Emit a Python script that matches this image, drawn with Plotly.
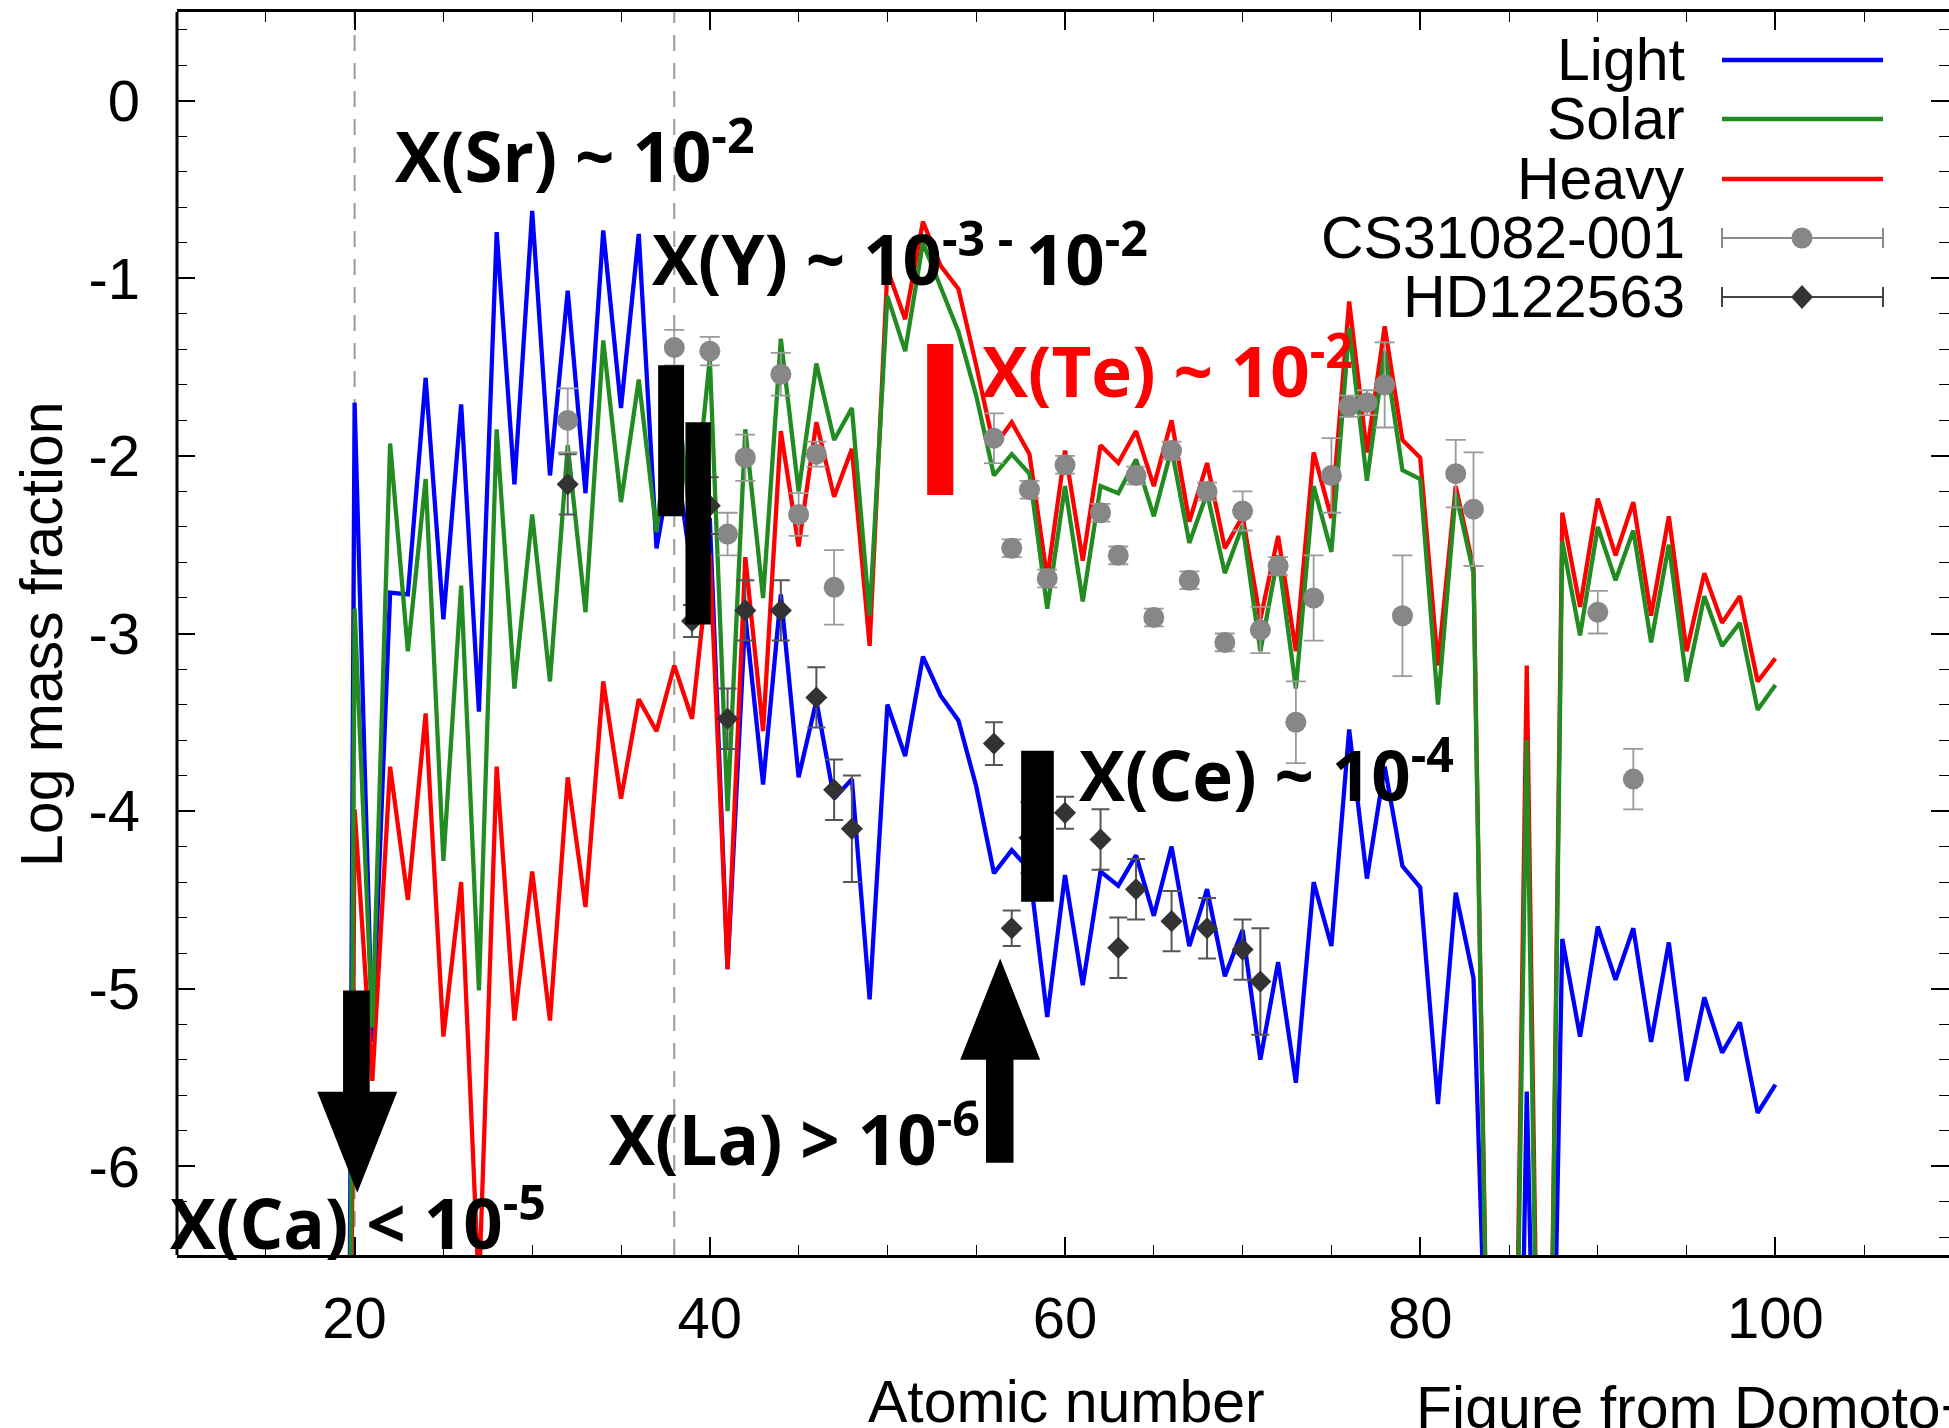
import plotly.graph_objects as go

# ---------------- data ----------------
Z = list(range(19, 101))
light = [-20, -1.70, -5.30, -2.77, -2.78, -1.56, -2.92, -1.71, -3.44, -0.74,
         -2.16, -0.62, -2.11, -1.07, -2.21, -0.73, -1.73, -0.75, -2.52, -1.95,
         -2.66, -2.35, -4.89, -2.90, -3.85, -2.78, -3.81, -3.38, -3.93, -3.82,
         -5.06, -3.40, -3.69, -3.13, -3.35, -3.49, -3.86, -4.35, -4.22, -4.33,
         -5.16, -4.36, -4.98, -4.34, -4.42, -4.25, -4.59, -4.20, -4.76, -4.44,
         -4.93, -4.67, -5.40, -4.85, -5.53, -4.40, -4.76, -3.54, -4.38, -3.75,
         -4.31, -4.43, -5.65, -4.46, -4.94, -8.4, -11.3, -5.58, -10.0, -4.72,
         -5.27, -4.65, -4.95, -4.66, -5.30, -4.74, -5.52, -5.05, -5.36, -5.19,
         -5.70, -5.54]
solar = [-20, -2.86, -5.22, -1.93, -3.10, -2.13, -4.28, -2.73, -5.01, -1.85,
         -3.31, -2.33, -3.27, -1.94, -2.88, -1.35, -2.26, -1.57, -2.43, -1.50,
         -2.45, -1.45, -4.00, -1.85, -2.80, -1.34, -2.20, -1.48, -1.91, -1.73,
         -2.90, -1.10, -1.41, -0.80, -1.05, -1.30, -1.66, -2.11, -1.99, -2.10,
         -2.86, -2.17, -2.82, -2.17, -2.21, -2.02, -2.34, -1.96, -2.49, -2.21,
         -2.66, -2.39, -3.10, -2.56, -3.31, -2.17, -2.54, -1.28, -2.14, -1.41,
         -2.08, -2.13, -3.40, -2.21, -2.66, -8.6, -10.0, -3.6, -10.0, -2.48,
         -3.01, -2.40, -2.70, -2.42, -3.05, -2.50, -3.27, -2.79, -3.07, -2.94,
         -3.43, -3.29]
heavy = [-20, -3.99, -5.52, -3.75, -4.50, -3.45, -5.27, -4.40, -6.70, -3.75,
         -5.18, -4.34, -5.18, -3.81, -4.54, -3.27, -3.93, -3.37, -3.55, -3.18,
         -3.48, -2.55, -4.89, -2.57, -3.55, -1.86, -2.51, -1.81, -2.23, -1.96,
         -3.07, -0.95, -1.23, -0.68, -0.93, -1.06, -1.49, -1.95, -1.81, -1.99,
         -2.69, -1.97, -2.59, -1.94, -2.04, -1.86, -2.17, -1.80, -2.37, -2.04,
         -2.52, -2.34, -2.92, -2.45, -3.10, -1.98, -2.35, -1.13, -1.98, -1.27,
         -1.91, -2.01, -3.18, -2.17, -2.63, -8.5, -10.0, -3.18, -10.0, -2.32,
         -2.85, -2.24, -2.56, -2.26, -2.90, -2.34, -3.10, -2.66, -2.94, -2.79,
         -3.27, -3.14]

cs_z = [32, 38, 40, 41, 42, 44, 45, 46, 47, 56, 57, 58, 59, 60, 62, 63, 64, 65,
        66, 67, 68, 69, 70, 71, 72, 73, 74, 75, 76, 77, 78, 79, 82, 83, 90, 92]
cs_v = [-1.80, -1.39, -1.41, -2.44, -2.01, -1.54, -2.33, -1.99, -2.74, -1.90,
        -2.52, -2.19, -2.69, -2.05, -2.32, -2.56, -2.11, -2.91, -1.97, -2.70,
        -2.20, -3.05, -2.31, -2.98, -2.62, -3.50, -2.80, -2.11, -1.72, -1.70,
        -1.60, -2.90, -2.10, -2.30, -2.88, -3.82]
cs_e = [0.18, 0.10, 0.08, 0.12, 0.13, 0.12, 0.12, 0.07, 0.21, 0.14,
        0.05, 0.05, 0.05, 0.05, 0.05, 0.05, 0.05, 0.05, 0.05, 0.05,
        0.05, 0.05, 0.11, 0.13, 0.05, 0.23, 0.24, 0.21, 0.06, 0.07,
        0.24, 0.34, 0.19, 0.32, 0.12, 0.17]

hd_z = [32, 39, 40, 41, 42, 44, 46, 47, 48, 56, 57, 58, 60, 62, 63, 64, 66, 68, 70, 71]
hd_v = [-2.16, -2.93, -2.28, -3.48, -2.87, -2.87, -3.36, -3.88, -4.10, -3.62,
        -4.66, -4.15, -4.01, -4.16, -4.77, -4.44, -4.62, -4.66, -4.78, -4.96]
hd_e = [0.17, 0.09, 0.16, 0.17, 0.17, 0.17, 0.17, 0.17, 0.30, 0.12,
        0.10, 0.20, 0.09, 0.17, 0.17, 0.17, 0.17, 0.17, 0.17, 0.30]

x_ticks = [20, 40, 60, 80, 100]
y_ticks = [0, -1, -2, -3, -4, -5, -6]

# ---------------- layout geometry ----------------
W, H = 1949, 1428
LM, TM, BM = 177, 12, 173
PW, PH = W - LM, H - TM - BM
XS = 17.76
XR = [10, 10 + PW / XS]
YR = [-6.5, 0.5]


def px(p):
    return (p - LM) / PW


def py(p):
    return 1 - (p - TM) / PH


BLUE, GREEN, RED = "#0000ff", "#228b22", "#ff0000"
TICKFONT = "Liberation Sans, Arial, Helvetica, sans-serif"
BOLDFONT = "Open Sans, Noto Sans, sans-serif"
LW = 4.3

fig = go.Figure()
fig.add_trace(go.Scatter(x=Z, y=light, mode="lines", line=dict(color=BLUE, width=LW), name="Light"))
fig.add_trace(go.Scatter(x=Z, y=heavy, mode="lines", line=dict(color=RED, width=LW), name="Heavy"))
fig.add_trace(go.Scatter(x=Z, y=solar, mode="lines", line=dict(color=GREEN, width=LW), name="Solar"))
fig.add_trace(go.Scatter(
    x=cs_z, y=cs_v, mode="markers", name="CS31082-001",
    marker=dict(symbol="circle", size=21, color="#878787"),
    error_y=dict(type="data", array=cs_e, color="#9a9a9a", thickness=1.8, width=10)))
fig.add_trace(go.Scatter(
    x=hd_z, y=hd_v, mode="markers", name="HD122563",
    marker=dict(symbol="diamond", size=17, color="#333333"),
    error_y=dict(type="data", array=hd_e, color="#555555", thickness=2, width=9)))

shapes = []
for zz in (20, 38):
    shapes.append(dict(type="line", xref="x", yref="paper", x0=zz, x1=zz, y0=0, y1=1,
                       line=dict(color="#999999", width=2, dash="16px,12px"), layer="below"))
for (xa, xb, ya, yb, c) in [(37.09, 38.55, -1.49, -2.34, "black"),
                            (38.63, 40.06, -1.81, -2.95, "black"),
                            (52.24, 53.71, -1.37, -2.22, RED),
                            (57.53, 59.37, -3.66, -4.51, "black")]:
    shapes.append(dict(type="rect", xref="x", yref="y", x0=xa, x1=xb, y0=yb, y1=ya,
                       fillcolor=c, line=dict(width=0)))
shapes.append(dict(type="path", xref="x", yref="y", fillcolor="black", line=dict(width=0),
                   path="M 19.35,-5.01 L 20.85,-5.01 L 20.85,-5.58 L 22.4,-5.58 L 20.15,-6.15 "
                        "L 17.9,-5.58 L 19.35,-5.58 Z"))
shapes.append(dict(type="path", xref="x", yref="y", fillcolor="black", line=dict(width=0),
                   path="M 55.55,-5.98 L 57.1,-5.98 L 57.1,-5.40 L 58.6,-5.40 L 56.35,-4.83 "
                        "L 54.1,-5.40 L 55.55,-5.40 Z"))
shapes.append(dict(type="line", xref="paper", yref="paper", x0=0, x1=0, y0=0, y1=1,
                   line=dict(color="black", width=3)))

# manual legend (gnuplot style: text, then sample)
rows = [60, 119, 179, 238, 297]
labels = ["Light", "Solar", "Heavy", "CS31082-001", "HD122563"]
annotations = []
for r, lab in zip(rows, labels):
    annotations.append(dict(text=lab, xref="paper", yref="paper", x=px(1687), y=py(r),
                            xanchor="right", yanchor="middle", showarrow=False,
                            font=dict(family=TICKFONT, size=59, color="black")))
for r, c in zip(rows[:3], [BLUE, GREEN, RED]):
    shapes.append(dict(type="line", xref="paper", yref="paper", x0=px(1722), x1=px(1883),
                       y0=py(r), y1=py(r), line=dict(color=c, width=LW)))
for r, c in [(rows[3], "#8a8a8a"), (rows[4], "#444444")]:
    shapes.append(dict(type="line", xref="paper", yref="paper", x0=px(1722), x1=px(1883),
                       y0=py(r), y1=py(r), line=dict(color=c, width=2)))
    for xx in (1722, 1883):
        shapes.append(dict(type="line", xref="paper", yref="paper", x0=px(xx), x1=px(xx),
                           y0=py(r - 10), y1=py(r + 10), line=dict(color=c, width=2)))
shapes.append(dict(type="circle", xref="paper", yref="paper", x0=px(1791.5), x1=px(1812.5),
                   y0=py(rows[3] + 10.5), y1=py(rows[3] - 10.5), fillcolor="#878787",
                   line=dict(width=0)))
r = rows[4]
shapes.append(dict(type="path", xref="paper", yref="paper", fillcolor="#333333", line=dict(width=0),
                   path=f"M {px(1791)},{py(r)} L {px(1802)},{py(r - 12)} L {px(1813)},{py(r)} "
                        f"L {px(1802)},{py(r + 12)} Z"))

notes = [
    ("X(Sr) ~ 10<sup>-2</sup>", 393, 152, "black"),
    ("X(Y) ~ 10<sup>-3 - </sup>10<sup>-2</sup>", 650, 255, "black"),
    ("X(Te) ~ 10<sup>-2</sup>", 980, 366, RED),
    ("X(Ce) ~ 10<sup>-4</sup>", 1077, 771, "black"),
    ("X(La) &gt; 10<sup>-6</sup>", 607, 1134, "black"),
    ("X(Ca) &lt; 10<sup>-5</sup>", 168, 1218, "black"),
]
for t, xx, yy, c in notes:
    annotations.append(dict(text=f"<b>{t}</b>", xref="paper", yref="paper", x=px(xx), y=py(yy),
                            xanchor="left", yanchor="middle", showarrow=False,
                            font=dict(family=BOLDFONT, size=69, color=c)))

annotations.append(dict(text="Log mass fraction", xref="paper", yref="paper", x=px(42), y=py(634),
                        textangle=-90, showarrow=False, xanchor="center", yanchor="middle",
                        font=dict(family=TICKFONT, size=59, color="black")))
annotations.append(dict(text="Atomic number", xref="paper", yref="paper", x=px(1066), y=py(1402),
                        showarrow=False, xanchor="center", yanchor="middle",
                        font=dict(family=TICKFONT, size=59, color="black")))
annotations.append(dict(text="Figure from Domoto+2022", xref="paper", yref="paper", x=px(1414),
                        y=py(1408), showarrow=False, xanchor="left", yanchor="middle",
                        font=dict(family=TICKFONT, size=59, color="black")))

fig.update_layout(
    width=W, height=H, margin=dict(l=LM, r=0, t=TM, b=BM, pad=0),
    paper_bgcolor="white", plot_bgcolor="white", showlegend=False,
    shapes=shapes, annotations=annotations,
    font=dict(family=TICKFONT, color="black"),
)
fig.update_xaxes(range=XR, tickmode="array", tickvals=x_ticks, ticktext=[str(v) for v in x_ticks],
                 ticks="inside", ticklen=18, tickwidth=1.5, tickcolor="black",
                 showline=True, linecolor="black", linewidth=3, mirror="ticks",
                 showgrid=False, zeroline=False, ticklabelstandoff=10,
                 tickfont=dict(family=TICKFONT, size=58, color="black"),
                 minor=dict(dtick=5, tick0=0, ticks="inside", ticklen=10, tickwidth=1.2,
                            tickcolor="black", showgrid=False))
fig.update_yaxes(range=YR, tickmode="array", tickvals=y_ticks, ticktext=[str(v) for v in y_ticks],
                 ticks="inside", ticklen=18, tickwidth=1.5, tickcolor="black",
                 showline=False, mirror="ticks",
                 showgrid=False, zeroline=False, ticklabelstandoff=36,
                 tickfont=dict(family=TICKFONT, size=58, color="black"),
                 minor=dict(dtick=0.2, tick0=0, ticks="inside", ticklen=10, tickwidth=1.2,
                            tickcolor="black", showgrid=False))

fig.write_html("out.html")
